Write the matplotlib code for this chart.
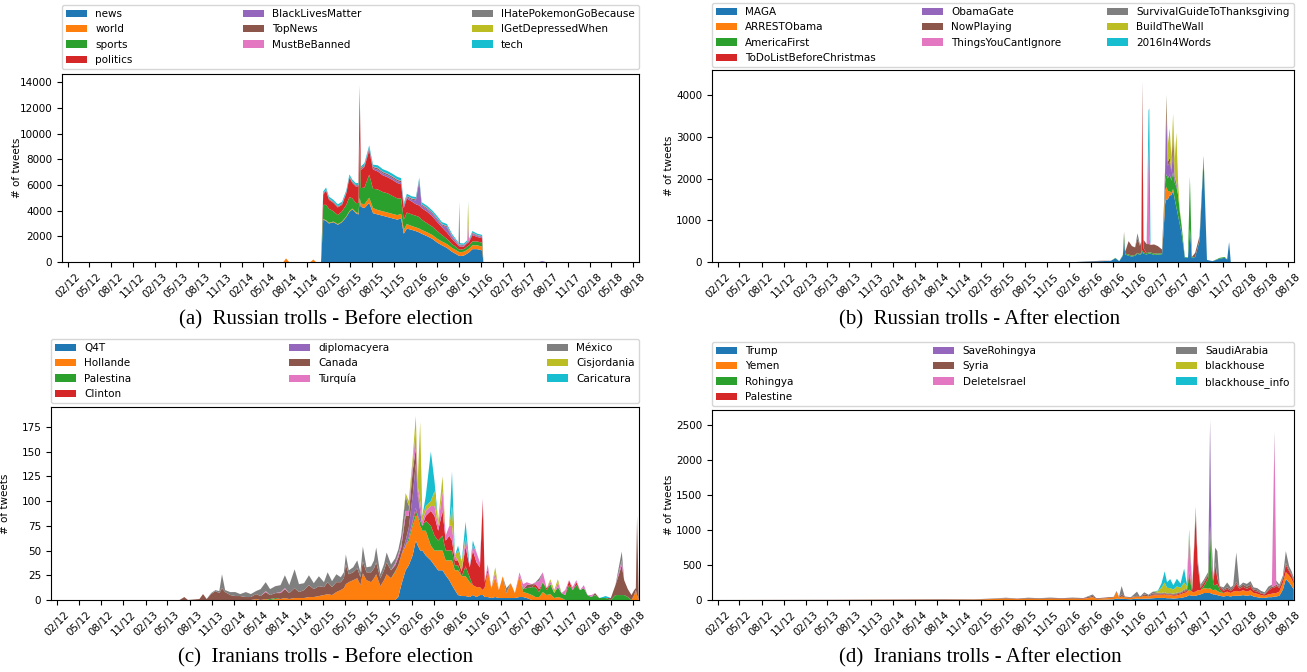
import matplotlib
matplotlib.use("Agg")
import matplotlib.pyplot as plt
import matplotlib.dates as mdates
from matplotlib.ticker import MultipleLocator
import pandas as pd

# ---------------- (a) Russian trolls - Before election ----------------
labels_a = ["news", "world", "sports", "politics", "BlackLivesMatter", "TopNews",
            "MustBeBanned", "IHatePokemonGoBecause", "IGetDepressedWhen", "tech"]
dates_a = ["2012-01-08", "2014-07-25", "2014-08-05", "2014-08-18", "2014-11-15", "2014-11-28", "2014-12-08", "2014-12-30",
           "2015-01-08", "2015-01-20", "2015-02-01", "2015-02-20", "2015-03-10", "2015-03-28", "2015-04-15", "2015-04-28",
           "2015-05-10", "2015-05-25", "2015-06-05", "2015-06-10", "2015-06-15", "2015-06-30", "2015-07-20", "2015-08-05",
           "2015-08-25", "2015-09-15", "2015-10-05", "2015-10-25", "2015-11-15", "2015-12-01", "2015-12-12", "2015-12-25",
           "2016-01-15", "2016-02-01", "2016-02-15", "2016-02-25", "2016-03-20", "2016-04-10", "2016-05-01", "2016-05-20",
           "2016-06-10", "2016-07-01", "2016-07-20", "2016-07-29", "2016-08-01", "2016-08-04", "2016-08-20", "2016-09-03",
           "2016-09-07", "2016-09-11", "2016-09-25", "2016-10-15", "2016-11-05", "2016-11-10", "2017-07-01", "2017-07-15",
           "2017-07-30", "2018-08-24"]
news_a = [0, 0, 0, 0, 0, 0, 0, 0,
          3300, 3200, 3000, 3100, 2900, 3100, 3500, 3900, 4100, 3800, 3700, 4800, 4300, 4200, 4600, 3800,
          3700, 3600, 3500, 3400, 3300, 3400, 2200, 2600, 2500, 2400, 2300, 2200, 2000, 1800, 1500, 1300,
          1100, 800, 600, 500, 480, 460, 500, 650, 700, 750, 1000, 1000, 900,
          0, 0, 0, 0, 0]
world_a = [0, 0, 280, 0, 0, 200, 0, 0,
           50, 50, 50, 50, 50, 50, 50, 60, 60, 80, 100, 200, 250, 300, 400, 400,
           350, 350, 350, 350, 350, 350, 300, 350, 300, 300, 300, 300, 300, 300, 300, 300,
           300, 300, 300, 300, 300, 300, 300, 300, 300, 300, 300, 300, 300,
           0, 0, 0, 0, 0]
sports_a = [0, 0, 0, 0, 0, 0, 0, 0,
            1100, 1200, 1100, 800, 700, 800, 900, 1100, 800, 700, 800, 4600, 1200, 1300, 1800, 1500,
            1600, 1500, 1500, 1400, 1300, 1200, 800, 900, 900, 900, 900, 800, 700, 650, 600, 500,
            400, 300, 250, 200, 200, 200, 200, 250, 250, 250, 300, 300, 300,
            0, 0, 0, 0, 0]
politics_a = [0, 0, 0, 0, 0, 0, 0, 0,
              800, 1100, 700, 650, 600, 500, 900, 1500, 1200, 1300, 1300, 3800, 1400, 1600, 1900, 1500,
              1400, 1300, 1250, 1250, 1200, 1100, 900, 1100, 1000, 900, 900, 900, 900, 800, 700, 600,
              500, 400, 300, 250, 250, 250, 200, 250, 250, 250, 500, 350, 350,
              0, 0, 0, 0, 0]
blm_a = [0, 0, 0, 0, 0, 0, 0, 0,
         20, 20, 20, 20, 20, 20, 20, 30, 30, 30, 30, 50, 50, 50, 100, 100,
         150, 150, 150, 150, 150, 150, 100, 100, 150, 300, 1900, 200, 200, 200, 200, 150,
         400, 200, 100, 80, 80, 80, 60, 60, 60, 60, 100, 80, 80,
         0, 0, 80, 0, 0]
topnews_a = [0, 0, 0, 0, 0, 0, 0, 0,
             50, 60, 50, 50, 50, 50, 50, 60, 60, 60, 60, 150, 80, 80, 100, 100,
             100, 100, 100, 100, 100, 100, 80, 80, 80, 80, 80, 80, 80, 80, 80, 80,
             80, 60, 50, 50, 50, 50, 50, 50, 50, 50, 60, 50, 50,
             0, 0, 0, 0, 0]
mustbebanned_a = [0, 0, 0, 0, 0, 0, 0, 0,
                  20, 20, 20, 20, 20, 20, 20, 20, 20, 20, 20, 50, 20, 20, 30, 30,
                  30, 30, 30, 30, 30, 30, 30, 30, 30, 30, 30, 30, 30, 30, 30, 30,
                  30, 30, 30, 30, 30, 30, 30, 30, 1400, 30, 30, 30, 30,
                  0, 0, 0, 0, 0]
pokemon_a = [0, 0, 0, 0, 0, 0, 0, 0,
             0, 0, 0, 0, 0, 0, 0, 0, 0, 0, 0, 0, 0, 0, 0, 0,
             0, 0, 0, 0, 0, 0, 0, 0, 0, 0, 0, 0, 0, 0, 0, 0,
             0, 0, 0, 0, 3200, 0, 0, 0, 0, 0, 0, 0, 0,
             0, 0, 0, 0, 0]
depressed_a = [0, 0, 0, 0, 0, 0, 0, 0,
               0, 0, 0, 0, 0, 0, 0, 0, 0, 0, 0, 0, 0, 0, 0, 0,
               0, 0, 0, 0, 0, 0, 0, 0, 0, 0, 0, 0, 0, 0, 0, 0,
               0, 0, 0, 0, 0, 0, 0, 0, 1600, 0, 0, 0, 0,
               0, 0, 0, 0, 0]
tech_a = [0, 0, 0, 0, 0, 0, 0, 0,
          150, 150, 150, 150, 150, 150, 150, 150, 150, 150, 150, 150, 150, 150, 150, 150,
          200, 200, 200, 200, 200, 200, 150, 150, 150, 150, 150, 150, 150, 150, 150, 150,
          150, 120, 100, 100, 100, 100, 100, 100, 100, 100, 120, 100, 100,
          0, 0, 0, 0, 0]

# ---------------- (b) Russian trolls - After election ----------------
labels_b = ["MAGA", "ARRESTObama", "AmericaFirst", "ToDoListBeforeChristmas", "ObamaGate", "NowPlaying",
            "ThingsYouCantIgnore", "SurvivalGuideToThanksgiving", "BuildTheWall", "2016In4Words"]
dates_b = ["2012-01-08", "2016-03-01", "2016-06-15", "2016-07-25", "2016-08-12", "2016-08-28", "2016-09-12", "2016-09-17",
           "2016-09-22", "2016-10-06", "2016-10-20", "2016-11-02", "2016-11-12", "2016-11-22", "2016-11-28", "2016-12-02",
           "2016-12-07", "2016-12-20", "2016-12-28", "2016-12-31", "2017-01-05", "2017-01-20", "2017-02-05", "2017-02-22",
           "2017-03-02", "2017-03-07", "2017-03-12", "2017-03-18", "2017-03-26", "2017-04-02", "2017-04-09", "2017-04-16",
           "2017-04-23", "2017-04-30", "2017-05-07", "2017-05-14", "2017-05-28", "2017-06-10", "2017-06-18", "2017-06-26",
           "2017-07-10", "2017-07-28", "2017-08-14", "2017-08-28", "2017-09-20", "2017-10-20", "2017-11-10", "2017-11-20",
           "2017-11-28", "2017-12-05", "2018-08-24"]
maga_b = [0, 0, 20, 30, 90, 20, 150, 500, 180, 150,
          130, 150, 200, 170, 200, 250, 200, 180, 200, 200,
          200, 170, 180, 170, 900, 1400, 1500, 1500, 1600, 1600,
          1700, 1500, 1300, 1100, 900, 700, 100, 100, 800, 100,
          120, 500, 2450, 50, 20, 80, 100, 60, 480, 0,
          0]
arrest_b = [0, 0, 0, 0, 0, 0, 0, 0, 0, 0,
            0, 0, 0, 0, 0, 0, 0, 0, 0, 0,
            0, 0, 0, 0, 200, 300, 300, 200, 100, 50,
            50, 0, 0, 0, 0, 0, 0, 0, 0, 0,
            0, 0, 0, 0, 0, 0, 0, 0, 0, 0,
            0]
americafirst_b = [0, 0, 0, 0, 10, 0, 20, 150, 20, 30,
                  20, 20, 20, 20, 30, 30, 30, 30, 30, 30,
                  30, 30, 30, 30, 100, 200, 300, 300, 400, 300,
                  400, 400, 500, 500, 300, 200, 20, 10, 1250, 20,
                  0, 20, 100, 0, 0, 20, 20, 0, 0, 0,
                  0]
todolist_b = [0, 0, 0, 0, 0, 0, 0, 0, 0, 0,
              0, 0, 0, 0, 0, 3700, 100, 0, 0, 0,
              0, 0, 0, 0, 0, 0, 0, 0, 0, 0,
              0, 0, 0, 0, 0, 0, 0, 0, 0, 0,
              0, 0, 0, 0, 0, 0, 0, 0, 0, 0,
              0]
obamagate_b = [0, 0, 0, 0, 0, 0, 0, 0, 0, 0,
               0, 0, 0, 0, 0, 0, 0, 0, 0, 0,
               0, 0, 0, 0, 100, 300, 1400, 300, 300, 200,
               500, 100, 100, 0, 0, 0, 0, 0, 0, 0,
               0, 0, 0, 0, 0, 0, 0, 0, 0, 0,
               0]
nowplaying_b = [0, 0, 10, 0, 0, 0, 0, 50, 50, 320,
                230, 180, 350, 200, 250, 350, 200, 220, 200, 200,
                180, 220, 170, 100, 50, 100, 400, 100, 100, 50,
                500, 50, 0, 0, 0, 0, 0, 0, 0, 0,
                100, 100, 0, 0, 0, 0, 0, 0, 0, 0,
                0]
things_b = [0, 0, 0, 0, 0, 0, 0, 0, 0, 0,
            0, 0, 0, 0, 0, 0, 0, 0, 2400, 200,
            0, 0, 0, 0, 0, 0, 0, 0, 0, 0,
            0, 0, 0, 0, 0, 0, 0, 0, 0, 0,
            0, 0, 0, 0, 0, 0, 0, 0, 0, 0,
            0]
survival_b = [0, 0, 0, 0, 0, 0, 0, 30, 0, 0,
              0, 0, 120, 30, 0, 0, 0, 0, 0, 0,
              0, 0, 0, 0, 0, 0, 100, 0, 0, 0,
              0, 0, 0, 0, 0, 0, 0, 0, 0, 0,
              0, 0, 0, 0, 0, 0, 0, 0, 0, 0,
              0]
buildwall_b = [0, 0, 0, 0, 0, 0, 0, 0, 0, 0,
               0, 0, 0, 0, 0, 0, 0, 0, 0, 0,
               0, 0, 0, 0, 0, 0, 0, 400, 700, 300,
               400, 400, 1200, 300, 50, 0, 0, 0, 0, 0,
               0, 0, 0, 0, 0, 0, 0, 0, 0, 0,
               0]
in4words_b = [0, 0, 0, 0, 0, 0, 0, 0, 0, 0,
              0, 0, 0, 0, 0, 0, 0, 0, 800, 3050,
              0, 0, 0, 0, 0, 0, 0, 0, 0, 0,
              0, 0, 0, 0, 0, 0, 0, 0, 0, 0,
              0, 0, 0, 0, 0, 0, 0, 0, 0, 0,
              0]

# ---------------- (c) Iranians trolls - Before election ----------------
labels_c = ["Q4T", "Hollande", "Palestina", "Clinton", "diplomacyera", "Canada",
            "Turquía", "México", "Cisjordania", "Caricatura"]
dates_c = ["2012-01-08", "2013-06-20", "2013-07-10", "2013-07-25", "2013-09-10", "2013-09-25", "2013-10-10", "2013-10-28", "2013-11-15", "2013-12-01",
           "2013-12-12", "2013-12-25", "2014-01-15", "2014-02-05", "2014-02-25", "2014-03-20", "2014-04-10", "2014-05-01", "2014-05-20", "2014-06-10",
           "2014-06-28", "2014-07-20", "2014-08-10", "2014-08-28", "2014-09-15", "2014-10-07", "2014-10-25", "2014-11-15", "2014-12-05", "2014-12-25",
           "2015-01-15", "2015-02-05", "2015-02-20", "2015-03-10", "2015-03-28", "2015-04-15", "2015-04-28", "2015-05-06", "2015-05-18", "2015-06-05",
           "2015-06-22", "2015-07-05", "2015-07-15", "2015-07-30", "2015-08-18", "2015-08-30", "2015-09-08", "2015-09-25", "2015-10-10", "2015-10-21",
           "2015-11-08", "2015-11-25", "2015-12-08", "2015-12-20", "2016-01-07", "2016-01-20", "2016-02-05", "2016-02-18", "2016-02-26", "2016-03-07",
           "2016-03-16", "2016-03-30", "2016-04-20", "2016-05-05", "2016-05-20", "2016-06-07", "2016-06-20", "2016-07-05", "2016-07-16", "2016-07-28",
           "2016-08-10", "2016-08-25", "2016-09-10", "2016-09-27", "2016-10-10", "2016-10-25", "2016-11-08", "2016-11-20", "2016-11-28", "2016-12-10",
           "2016-12-25", "2017-01-10", "2017-01-25", "2017-02-10", "2017-02-25", "2017-03-15", "2017-04-01", "2017-04-20", "2017-05-05", "2017-05-20",
           "2017-06-10", "2017-06-25", "2017-07-10", "2017-07-25", "2017-08-10", "2017-08-25", "2017-09-10", "2017-09-25", "2017-10-10", "2017-10-25",
           "2017-11-10", "2017-11-25", "2017-12-10", "2017-12-25", "2018-01-10", "2018-01-25", "2018-02-10", "2018-02-25", "2018-03-15", "2018-04-10",
           "2018-05-01", "2018-05-20", "2018-06-15", "2018-06-25", "2018-07-10", "2018-07-25", "2018-08-05", "2018-08-12", "2018-08-17", "2018-08-24"]
q4t_c = [0, 0, 0, 0, 0, 0, 0, 0, 0, 0,
         0, 0, 0, 0, 0, 0, 0, 0, 0, 0,
         0, 0, 0, 0, 0, 0, 0, 0, 0, 0,
         0, 0, 0, 0, 0, 0, 0, 0, 0, 0,
         0, 0, 0, 0, 0, 0, 0, 0, 0, 0,
         0, 0, 3, 15, 30, 35, 45, 60, 55, 50,
         50, 45, 40, 35, 30, 30, 25, 20, 15, 10,
         5, 4, 4, 3, 5, 3, 5, 5, 3, 3,
         2, 3, 2, 2, 2, 2, 2, 3, 3, 2,
         0, 0, 0, 0, 0, 0, 0, 0, 0, 0,
         0, 0, 0, 0, 0, 0, 0, 0, 0, 0,
         0, 0, 0, 0, 0, 0, 0, 0, 0, 0]
hollande_c = [0, 0, 0, 0, 0, 0, 0, 0, 0, 0,
              0, 0, 0, 0, 0, 0, 0, 1, 0, 1,
              0, 1, 1, 2, 1, 2, 2, 2, 3, 3,
              4, 5, 6, 5, 8, 10, 12, 16, 18, 20,
              22, 15, 27, 20, 18, 22, 26, 14, 20, 26,
              22, 28, 32, 30, 25, 25, 30, 25, 30, 25,
              20, 25, 15, 15, 20, 20, 15, 20, 25, 20,
              25, 20, 20, 15, 10, 10, 8, 5, 10, 25,
              10, 20, 8, 22, 5, 15, 5, 22, 5, 5,
              5, 3, 3, 8, 5, 6, 2, 3, 2, 0,
              0, 0, 0, 0, 0, 0, 0, 0, 0, 0,
              0, 0, 0, 0, 0, 0, 5, 10, 5, 0]
palestina_c = [0, 0, 0, 0, 0, 0, 0, 0, 0, 0,
               0, 0, 0, 0, 0, 0, 0, 0, 0, 0,
               1, 1, 0, 0, 0, 0, 0, 0, 0, 0,
               0, 0, 0, 0, 0, 0, 0, 0, 0, 0,
               0, 0, 0, 0, 0, 0, 0, 0, 0, 0,
               0, 1, 0, 0, 0, 3, 3, 5, 0, 5,
               5, 10, 20, 15, 10, 15, 10, 10, 10, 5,
               5, 0, 10, 5, 0, 0, 0, 0, 0, 0,
               0, 0, 0, 0, 0, 0, 0, 0, 3, 5,
               8, 10, 5, 10, 5, 10, 5, 10, 5, 5,
               15, 10, 15, 10, 12, 5, 3, 5, 2, 2,
               0, 5, 5, 5, 3, 0, 0, 0, 0, 0]
clinton_c = [0, 0, 0, 0, 0, 0, 0, 0, 0, 0,
             0, 0, 0, 0, 0, 0, 0, 0, 0, 0,
             0, 0, 0, 0, 0, 0, 0, 0, 0, 0,
             0, 0, 0, 0, 0, 0, 0, 0, 0, 0,
             0, 0, 0, 0, 0, 0, 0, 0, 0, 0,
             0, 0, 0, 0, 0, 0, 2, 3, 0, 0,
             0, 5, 15, 20, 10, 25, 10, 15, 10, 5,
             5, 5, 20, 10, 35, 25, 20, 90, 5, 3,
             0, 0, 0, 0, 0, 0, 0, 0, 0, 0,
             0, 3, 3, 0, 2, 0, 0, 0, 0, 0,
             5, 0, 3, 0, 0, 0, 0, 0, 0, 0,
             0, 0, 0, 0, 0, 0, 0, 0, 0, 0]
diplomacy_c = [0, 0, 0, 0, 0, 0, 0, 0, 0, 0,
               0, 0, 0, 0, 0, 0, 0, 0, 0, 0,
               0, 0, 0, 0, 0, 0, 0, 0, 0, 0,
               0, 0, 0, 0, 0, 0, 0, 0, 0, 0,
               0, 0, 0, 0, 0, 0, 0, 0, 0, 0,
               0, 0, 0, 0, 5, 10, 25, 45, 20, 10,
               0, 0, 0, 0, 0, 0, 0, 0, 0, 0,
               0, 0, 0, 0, 0, 0, 0, 0, 0, 0,
               0, 0, 0, 0, 0, 0, 0, 0, 0, 0,
               0, 0, 0, 0, 0, 0, 0, 0, 0, 0,
               0, 0, 0, 0, 0, 0, 0, 0, 0, 0,
               0, 0, 0, 0, 0, 0, 0, 0, 0, 0]
canada_c = [0, 0, 3, 0, 1, 6, 1, 6, 9, 7,
            12, 8, 5, 4, 4, 3, 3, 5, 4, 7,
            4, 5, 6, 9, 6, 10, 6, 8, 12, 8,
            10, 8, 12, 8, 10, 8, 10, 20, 8, 8,
            10, 8, 12, 8, 10, 10, 12, 8, 10, 12,
            8, 6, 8, 8, 25, 12, 25, 15, 5, 0,
            0, 0, 0, 0, 0, 0, 0, 0, 0, 0,
            0, 0, 0, 0, 0, 0, 0, 0, 0, 0,
            0, 0, 0, 0, 0, 0, 0, 0, 0, 3,
            3, 0, 0, 0, 0, 0, 0, 0, 0, 0,
            0, 0, 0, 0, 0, 0, 0, 2, 0, 0,
            2, 10, 30, 15, 8, 5, 5, 2, 80, 0]
turquia_c = [0, 0, 0, 0, 0, 0, 0, 0, 0, 0,
             0, 0, 0, 0, 0, 0, 0, 0, 0, 1,
             0, 0, 1, 1, 0, 0, 0, 0, 0, 0,
             0, 0, 0, 0, 0, 0, 0, 0, 0, 0,
             0, 0, 0, 0, 0, 0, 0, 0, 0, 0,
             0, 2, 3, 4, 5, 5, 5, 15, 5, 10,
             5, 5, 5, 10, 5, 20, 5, 10, 15, 5,
             0, 0, 10, 0, 5, 10, 5, 3, 0, 5,
             0, 5, 0, 0, 0, 0, 0, 3, 5, 3,
             0, 2, 8, 10, 0, 3, 0, 5, 0, 5,
             0, 3, 2, 0, 3, 0, 2, 0, 0, 0,
             0, 0, 5, 0, 0, 0, 0, 0, 0, 0]
mexico_c = [0, 0, 0, 0, 0, 0, 0, 1, 1, 2,
            14, 2, 3, 4, 2, 5, 3, 3, 7, 9,
            6, 7, 7, 13, 8, 19, 8, 7, 10, 6,
            10, 5, 10, 6, 8, 5, 6, 10, 4, 5,
            8, 5, 15, 5, 6, 8, 15, 4, 6, 10,
            6, 5, 5, 8, 15, 5, 3, 3, 0, 0,
            0, 0, 0, 0, 0, 0, 0, 0, 0, 0,
            0, 0, 0, 0, 0, 0, 0, 0, 0, 0,
            0, 0, 0, 0, 5, 0, 0, 0, 0, 0,
            0, 0, 3, 0, 0, 0, 0, 0, 0, 0,
            0, 0, 0, 0, 0, 0, 0, 0, 0, 0,
            0, 0, 9, 0, 0, 0, 0, 0, 0, 0]
cisjordania_c = [0, 0, 0, 0, 0, 0, 0, 0, 0, 0,
                 0, 0, 0, 0, 0, 0, 0, 0, 0, 0,
                 0, 0, 0, 0, 0, 0, 0, 0, 0, 0,
                 0, 0, 0, 0, 0, 0, 0, 0, 0, 0,
                 0, 0, 0, 0, 0, 0, 0, 0, 0, 0,
                 0, 0, 0, 0, 3, 5, 5, 15, 5, 80,
                 5, 5, 5, 15, 5, 15, 0, 0, 20, 0,
                 10, 10, 0, 0, 0, 0, 0, 0, 0, 0,
                 0, 5, 0, 0, 0, 0, 0, 0, 0, 0,
                 0, 0, 0, 0, 0, 2, 3, 3, 0, 0,
                 0, 0, 0, 0, 0, 0, 0, 0, 0, 0,
                 0, 0, 0, 0, 0, 0, 0, 0, 0, 0]
caricatura_c = [0, 0, 0, 0, 0, 0, 0, 0, 0, 0,
                0, 0, 0, 0, 0, 0, 0, 0, 0, 0,
                0, 0, 0, 0, 0, 0, 0, 0, 0, 0,
                0, 0, 0, 0, 0, 0, 0, 0, 0, 0,
                0, 0, 0, 0, 0, 0, 0, 0, 0, 0,
                0, 0, 0, 0, 0, 0, 0, 0, 0, 0,
                0, 10, 50, 10, 0, 0, 0, 0, 35, 0,
                5, 0, 15, 0, 5, 0, 0, 0, 0, 0,
                0, 0, 0, 0, 0, 0, 0, 0, 0, 0,
                0, 0, 0, 0, 0, 0, 0, 0, 0, 0,
                0, 0, 0, 0, 0, 0, 0, 0, 0, 2,
                0, 0, 0, 0, 0, 0, 0, 0, 0, 0]

# ---------------- (d) Iranians trolls - After election ----------------
labels_d = ["Trump", "Yemen", "Rohingya", "Palestine", "SaveRohingya", "Syria",
            "DeleteIsrael", "SaudiArabia", "blackhouse", "blackhouse_info"]
dates_d = ["2012-01-08", "2013-06-01", "2014-01-01", "2014-09-01", "2015-01-01", "2015-04-01", "2015-05-15", "2015-07-01", "2015-08-15", "2015-10-01",
           "2015-11-15", "2016-01-01", "2016-02-15", "2016-04-01", "2016-05-10", "2016-05-25", "2016-07-01", "2016-08-05", "2016-08-17", "2016-08-27",
           "2016-09-07", "2016-09-20", "2016-10-15", "2016-11-10", "2016-11-22", "2016-12-10", "2016-12-28", "2017-01-15", "2017-02-05", "2017-02-20",
           "2017-03-05", "2017-03-15", "2017-03-28", "2017-04-10", "2017-04-25", "2017-05-10", "2017-05-25", "2017-06-05", "2017-06-15", "2017-06-28",
           "2017-07-12", "2017-07-20", "2017-08-01", "2017-08-15", "2017-09-02", "2017-09-10", "2017-09-16", "2017-09-24", "2017-10-01", "2017-10-10",
           "2017-10-20", "2017-11-05", "2017-11-20", "2017-12-05", "2017-12-15", "2017-12-28", "2018-01-10", "2018-01-25", "2018-02-10", "2018-02-25",
           "2018-03-10", "2018-03-25", "2018-04-10", "2018-04-25", "2018-05-10", "2018-05-25", "2018-06-05", "2018-06-12", "2018-06-25", "2018-07-10",
           "2018-07-22", "2018-08-05", "2018-08-15", "2018-08-24"]
trump_d = [0, 0, 0, 0, 0, 0, 0, 0, 0, 0,
           0, 0, 0, 0, 0, 0, 5, 10, 20, 15,
           20, 15, 10, 20, 15, 20, 20, 25, 30, 30,
           30, 25, 25, 20, 25, 30, 40, 50, 70, 60,
           60, 70, 80, 100, 100, 100, 90, 80, 80, 70,
           60, 50, 60, 50, 60, 60, 60, 70, 60, 70,
           50, 40, 30, 30, 40, 40, 50, 50, 60, 150,
           300, 250, 200, 150]
yemen_d = [0, 0, 2, 3, 5, 15, 20, 12, 18, 15,
           20, 15, 20, 15, 40, 15, 20, 25, 90, 20,
           30, 25, 20, 30, 25, 40, 30, 40, 40, 40,
           50, 40, 45, 40, 40, 50, 60, 60, 80, 50,
           60, 70, 60, 70, 60, 70, 60, 60, 70, 60,
           50, 50, 60, 50, 60, 70, 60, 70, 60, 70,
           50, 50, 40, 30, 40, 50, 50, 50, 60, 100,
           100, 100, 100, 80]
rohingya_d = [0, 0, 0, 0, 0, 0, 0, 0, 0, 0,
              0, 0, 0, 0, 0, 0, 0, 0, 0, 0,
              0, 0, 0, 0, 0, 0, 0, 0, 0, 0,
              0, 0, 0, 0, 0, 0, 0, 0, 200, 0,
              0, 0, 0, 30, 150, 850, 300, 80, 60, 100,
              40, 0, 0, 0, 0, 0, 0, 0, 0, 0,
              0, 0, 0, 0, 0, 0, 0, 0, 0, 0,
              0, 0, 0, 0]
palestine_d = [0, 0, 0, 0, 0, 0, 0, 3, 0, 0,
               0, 3, 0, 5, 0, 0, 0, 0, 0, 0,
               0, 0, 0, 0, 0, 0, 0, 10, 10, 10,
               10, 10, 10, 10, 15, 15, 20, 20, 30, 30,
               1100, 380, 30, 40, 40, 40, 60, 40, 300, 80,
               30, 30, 40, 30, 40, 100, 40, 50, 40, 50,
               30, 30, 20, 20, 50, 80, 80, 100, 50, 50,
               100, 60, 50, 40]
saverohingya_d = [0, 0, 0, 0, 0, 0, 0, 0, 0, 0,
                  0, 0, 0, 0, 0, 0, 0, 0, 0, 0,
                  0, 0, 0, 0, 0, 0, 0, 0, 0, 0,
                  0, 0, 0, 0, 0, 0, 0, 0, 0, 0,
                  0, 0, 0, 0, 0, 1450, 100, 0, 0, 0,
                  0, 0, 0, 0, 0, 0, 0, 0, 0, 0,
                  0, 0, 0, 0, 0, 0, 0, 0, 0, 0,
                  0, 0, 0, 0]
syria_d = [0, 3, 5, 8, 5, 5, 8, 5, 10, 8,
           10, 8, 10, 8, 20, 10, 10, 10, 10, 10,
           30, 10, 10, 10, 10, 20, 15, 20, 15, 10,
           10, 10, 10, 10, 15, 10, 15, 15, 30, 20,
           20, 30, 20, 20, 20, 20, 30, 20, 30, 20,
           20, 20, 20, 20, 20, 30, 20, 30, 30, 30,
           20, 20, 10, 10, 20, 20, 20, 20, 20, 20,
           30, 20, 20, 20]
deleteisrael_d = [0, 0, 0, 0, 0, 0, 0, 0, 0, 0,
                  0, 0, 0, 0, 0, 0, 0, 0, 0, 0,
                  0, 0, 0, 0, 0, 0, 0, 0, 0, 0,
                  0, 0, 0, 0, 0, 0, 0, 0, 500, 0,
                  50, 30, 0, 0, 0, 0, 0, 0, 0, 0,
                  0, 0, 0, 0, 0, 0, 0, 0, 0, 0,
                  0, 0, 0, 0, 0, 0, 2150, 20, 0, 0,
                  0, 0, 0, 0]
saudi_d = [0, 0, 0, 0, 0, 3, 5, 0, 5, 3,
           5, 0, 5, 0, 20, 0, 0, 0, 10, 0,
           120, 0, 0, 60, 0, 30, 10, 25, 10, 10,
           10, 10, 10, 10, 10, 10, 15, 15, 20, 20,
           30, 30, 30, 30, 30, 50, 240, 20, 210, 370,
           0, 30, 70, 30, 30, 420, 20, 30, 40, 50,
           30, 30, 30, 20, 40, 30, 60, 40, 30, 30,
           170, 50, 40, 30]
blackhouse_d = [0, 0, 0, 0, 0, 0, 0, 0, 0, 0,
                0, 0, 0, 0, 0, 0, 0, 0, 0, 0,
                0, 0, 0, 0, 0, 0, 0, 0, 20, 80,
                140, 80, 70, 60, 90, 60, 100, 40, 50, 20,
                20, 0, 0, 0, 0, 0, 0, 0, 0, 0,
                0, 0, 0, 0, 0, 0, 0, 0, 0, 0,
                0, 0, 0, 0, 0, 0, 0, 0, 0, 0,
                0, 0, 0, 0]
blackhouse_info_d = [0, 0, 0, 0, 0, 0, 0, 0, 0, 0,
                     0, 0, 0, 0, 0, 0, 0, 0, 0, 0,
                     0, 0, 0, 0, 0, 0, 0, 0, 10, 60,
                     160, 80, 130, 60, 110, 60, 200, 30, 30, 0,
                     0, 0, 0, 0, 0, 0, 0, 0, 0, 0,
                     0, 0, 0, 0, 0, 0, 0, 0, 0, 0,
                     0, 0, 0, 0, 0, 0, 0, 0, 0, 0,
                     0, 0, 0, 0]

captions = ["(a)  Russian trolls - Before election", "(b)  Russian trolls - After election",
            "(c)  Iranians trolls - Before election", "(d)  Iranians trolls - After election"]

# ---------------- drawing ----------------
W, H = 1307, 672
fig = plt.figure(figsize=(W / 100, H / 100), dpi=100)
colors = plt.get_cmap("tab10").colors
FS = 7.5

panels = [
    (dates_a, [news_a, world_a, sports_a, politics_a, blm_a, topnews_a, mustbebanned_a, pokemon_a, depressed_a, tech_a],
     labels_a, (62, 74, 639, 262), 14640, 2000, 5, (326, 320)),
    (dates_b, [maga_b, arrest_b, americafirst_b, todolist_b, obamagate_b, nowplaying_b, things_b, survival_b, buildwall_b, in4words_b],
     labels_b, (712, 70, 1294, 262), 4600, 1000, 3, (980, 320)),
    (dates_c, [q4t_c, hollande_c, palestina_c, clinton_c, diplomacy_c, canada_c, turquia_c, mexico_c, cisjordania_c, caricatura_c],
     labels_c, (51, 407, 639, 600), 195, 25, 4, (326, 658)),
    (dates_d, [trump_d, yemen_d, rohingya_d, palestine_d, saverohingya_d, syria_d, deleteisrael_d, saudi_d, blackhouse_d, blackhouse_info_d],
     labels_d, (712, 410, 1294, 600), 2720, 500, 4, (980, 658)),
]

for (dates, series, labels, box, ytop, ystep, gap, cap_xy), cap in zip(panels, captions):
    l, t, r, b = box
    ax = fig.add_axes([l / W, 1 - b / H, (r - l) / W, (b - t) / H])
    x = pd.to_datetime(dates)
    for s in series:
        assert len(s) == len(x)
    ax.stackplot(x, *series, labels=labels, colors=colors, linewidth=0.3)
    ax.set_xlim(pd.Timestamp("2012-01-08"), pd.Timestamp("2018-08-25"))
    ax.set_ylim(0, ytop)
    ax.yaxis.set_major_locator(MultipleLocator(ystep))
    ax.xaxis.set_major_locator(mdates.MonthLocator(bymonth=[2, 5, 8, 11]))
    ax.xaxis.set_major_formatter(mdates.DateFormatter("%m/%y"))
    ax.tick_params(axis="both", labelsize=FS)
    for lab in ax.get_xticklabels():
        lab.set_rotation(45)
    ax.set_ylabel("# of tweets", fontsize=FS)
    ax.yaxis.set_label_coords(-0.07 if l < 100 else -0.065, 0.5)
    ax_h = b - t
    ax.legend(loc="lower left", bbox_to_anchor=(0, 1 + gap / ax_h, 1, 0.2), mode="expand",
              ncol=3, fontsize=FS, borderaxespad=0, labelspacing=0.5, handlelength=2.0)
    fig.text(cap_xy[0] / W, 1 - cap_xy[1] / H, cap, ha="center", va="center",
             fontsize=15, family=["Liberation Serif", "DejaVu Serif"])

fig.savefig("out.png", dpi=100)
